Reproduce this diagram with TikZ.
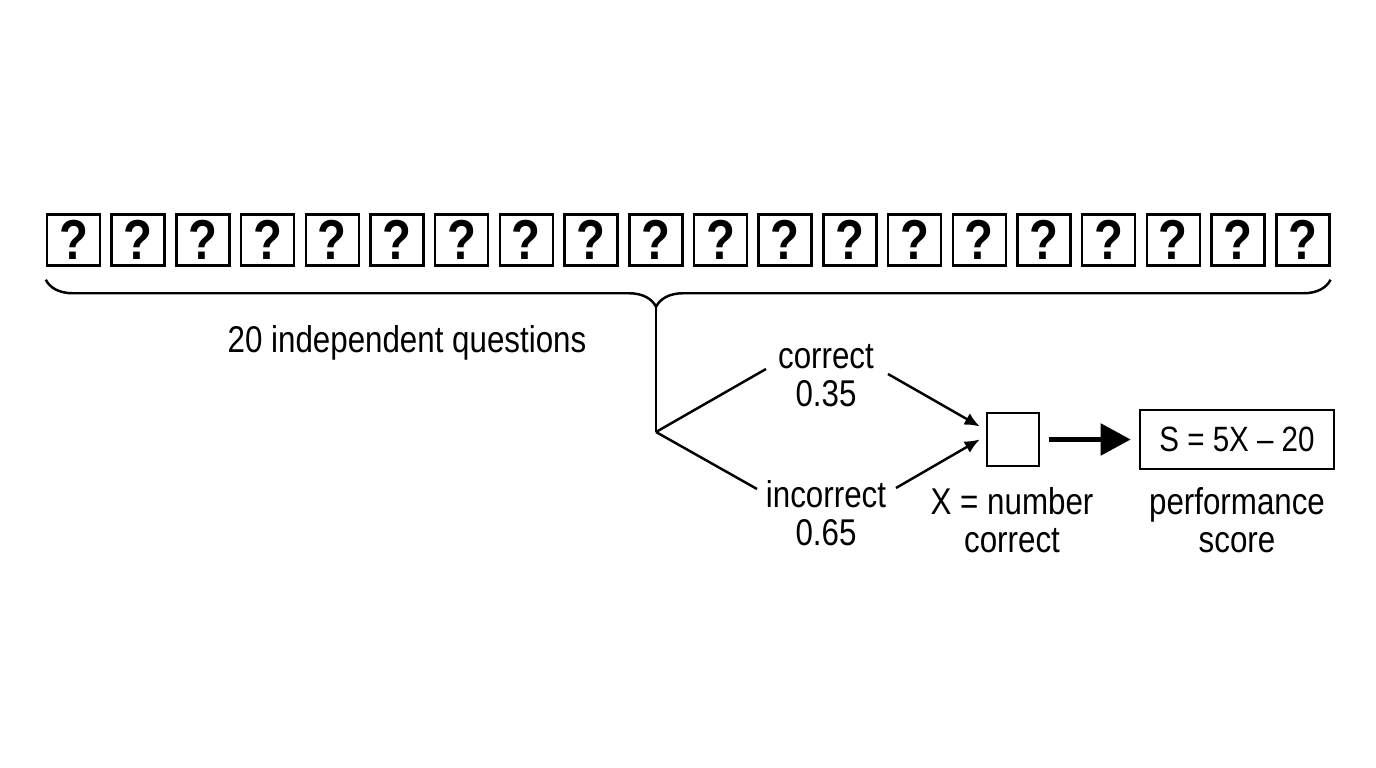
\documentclass[tikz,border=0pt]{standalone}
\usepackage{fontspec}
\setmainfont{Liberation Sans}[FakeStretch=0.84]
\usetikzlibrary{positioning,arrows.meta,decorations.pathreplacing}

\begin{document}
\begin{tikzpicture}[
  x=0.01cm, y=-0.01cm,
  qbox/.style={draw, line width=0.7pt, minimum width=0.53cm, minimum height=0.51cm, inner sep=0pt, font=\fontsize{16}{16}\selectfont\bfseries},
  txt/.style={font=\fontsize{10.6}{10.8}\selectfont, align=center, inner sep=0pt},
  thin/.style={line width=0.7pt},
  arrow/.style={-{Latex[length=0.15cm, width=0.13cm]}, line width=0.7pt},
  bigarrow/.style={-{Triangle[length=0.3cm, width=0.31cm]}, line width=1.5pt}
]
\useasboundingbox (0,0) rectangle (1376,768);

% row of questions
\foreach \i in {1,...,20}
  \node[qbox] (q\i) at ({73.5+64.7*(\i-1)},240) {?};

% brace under the row
\draw[thin, decorate, decoration={brace, mirror, amplitude=0.27cm, aspect=0.475}]
  ([yshift=-0.13cm]q1.south west) -- ([yshift=-0.13cm]q20.south east);
\node[txt] (count) at (407,343) {20 independent questions};

\coordinate (tip) at (656,305);
\coordinate (fork) at (656,432);
\draw[thin] (tip) -- (fork);

% outcomes
\node[txt] (cor) at (826,376) {correct\\0.35};
\node[txt] (inc) at (826,513) {incorrect\\0.65};
\coordinate (c1) at (766,369);
\coordinate (c2) at (888,374);
\coordinate (i1) at (757,489);
\coordinate (i2) at (896,488);

\node[draw, thin, minimum width=0.52cm, minimum height=0.53cm] (xbox) at (1013,439.5) {};
\node[draw, thin, minimum width=1.94cm, minimum height=0.59cm] (sbox) at (1237,439.5) {S = 5X -- 20};
\node[txt] (xlab) at (1012,520) {X = number\\correct};
\node[txt] (slab) at (1237,520) {performance\\score};

\draw[thin] (fork) -- (c1);
\draw[thin] (fork) -- (i1);
\draw[arrow] (c2) -- ([xshift=-0.06cm, yshift=0.13cm]xbox.west);
\draw[arrow] (i2) -- ([xshift=-0.06cm]xbox.west);
\draw[bigarrow] ([xshift=0.09cm]xbox.east) -- ([xshift=-0.08cm]sbox.west);
\end{tikzpicture}
\end{document}
